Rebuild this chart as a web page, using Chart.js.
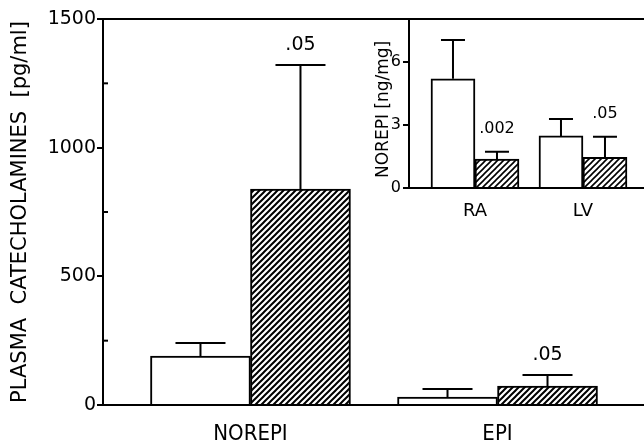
<!DOCTYPE html>
<html>
<head>
<meta charset="utf-8">
<script src="https://cdn.jsdelivr.net/npm/chart.js@4.4.1/dist/chart.umd.min.js"></script>
<style>
  html, body { margin: 0; padding: 0; background: #fff; overflow: hidden; }
  #wrap { position: relative; width: 644px; height: 445px; }
  #main { position: absolute; left: 0; top: 0; }
  #inset { position: absolute; left: 340px; top: 0; }
</style>
</head>
<body>
<div id="wrap">
  <canvas id="main" width="644" height="445"></canvas>
  <canvas id="inset" width="304" height="230"></canvas>
</div>
<script>
// main panel: plasma catecholamines (pg/ml)
const categories = ["NOREPI", "EPI"];
const controlValues = [190, 31];
const controlErrors = [51, 31];
const treatedValues = [839, 74];
const treatedErrors = [482, 43];
const treatedP = [".05", ".05"];
const yTicks = [0, 500, 1000, 1500];
const yMinorTicks = [250, 750, 1250];

// inset: tissue norepinephrine (ng/mg)
const insetCategories = ["RA", "LV"];
const insetControl = [5.2, 2.48];
const insetControlErr = [1.85, 0.81];
const insetTreated = [1.38, 1.46];
const insetTreatedErr = [0.35, 0.98];
const insetP = [".002", ".05"];
const insetTicks = [0, 3, 6];

Chart.defaults.font.family = "'DejaVu Sans'";
Chart.defaults.color = "#000";

function hatch(lw) {
  const s = 6;
  const c = document.createElement("canvas");
  c.width = c.height = s;
  const g = c.getContext("2d");
  g.fillStyle = "#fff";
  g.fillRect(0, 0, s, s);
  g.strokeStyle = "#000";
  g.lineWidth = lw;
  g.beginPath();
  [0, s, 2 * s].forEach((k) => {
    g.moveTo(k + 1, -1);
    g.lineTo(k - s - 1, s + 1);
  });
  g.stroke();
  return g.createPattern(c, "repeat");
}

const errorBars = {
  id: "errorBars",
  afterDatasetsDraw(chart, args, opts) {
    const ctx = chart.ctx;
    const y = chart.scales.y;
    ctx.save();
    ctx.strokeStyle = "#000";
    ctx.fillStyle = "#000";
    ctx.lineWidth = 2;
    opts.errors.forEach((errs, d) => {
      chart.getDatasetMeta(d).data.forEach((bar, i) => {
        const v = chart.data.datasets[d].data[i].y;
        const top = y.getPixelForValue(v + errs[i]);
        ctx.beginPath();
        ctx.moveTo(bar.x, bar.y);
        ctx.lineTo(bar.x, top);
        ctx.moveTo(bar.x - opts.cap / 2, top);
        ctx.lineTo(bar.x + opts.cap / 2, top);
        ctx.stroke();
        if (d === 1) {
          ctx.font = opts.labelFont;
          ctx.textAlign = "center";
          ctx.textBaseline = "middle";
          ctx.fillText(opts.labels[i], bar.x, top - opts.gap);
        }
      });
    });
    // short inward ticks between the labelled ones
    (opts.minor || []).forEach((v) => {
      const py = y.getPixelForValue(v);
      ctx.beginPath();
      ctx.moveTo(chart.chartArea.left, py);
      ctx.lineTo(chart.chartArea.left + 5, py);
      ctx.stroke();
    });
    ctx.restore();
  }
};

const black = { display: true, color: "#000", width: 2 };

function points(values) {
  return values.map((v, i) => ({ x: i + 1, y: v }));
}

new Chart(document.getElementById("main"), {
  type: "bar",
  data: {
    datasets: [
      { data: points(controlValues), backgroundColor: "#fff", borderColor: "#000", borderWidth: 2 },
      { data: points(treatedValues), backgroundColor: hatch(2), borderColor: "#000", borderWidth: 2 }
    ]
  },
  options: {
    responsive: false,
    animation: false,
    devicePixelRatio: 1,
    layout: { padding: 0 },
    datasets: { bar: { barThickness: 100 } },
    plugins: {
      legend: { display: false },
      tooltip: { enabled: false },
      errorBars: {
        errors: [controlErrors, treatedErrors],
        labels: treatedP,
        cap: 50,
        gap: 20,
        labelFont: "19px 'DejaVu Sans'",
        minor: yMinorTicks
      }
    },
    scales: {
      x: {
        type: "linear",
        offset: false,
        min: 0.403,
        max: 2.593,
        afterBuildTicks: (s) => { s.ticks = categories.map((c, i) => ({ value: i + 1 })); },
        ticks: {
          callback: (v) => categories[v - 1],
          font: { family: "'DejaVu Sans Condensed', 'DejaVu Sans'", size: 22 },
          padding: 16,
          autoSkip: false,
          maxRotation: 0
        },
        grid: { display: false, drawTicks: false },
        border: black,
        afterFit: (s) => { s.height = 40; }
      },
      top: {
        type: "linear",
        position: "top",
        ticks: { display: false },
        grid: { display: false, drawTicks: false },
        border: black,
        afterFit: (s) => { s.height = 19; }
      },
      y: {
        min: 0,
        max: 1500,
        afterBuildTicks: (s) => { s.ticks = yTicks.map((v) => ({ value: v })); },
        ticks: { font: { size: 19 }, padding: 1, callback: (v) => String(v) },
        grid: { drawOnChartArea: false, tickLength: 6, color: "#000", lineWidth: 2 },
        border: black,
        title: {
          display: true,
          text: "PLASMA  CATECHOLAMINES  [pg/ml]",
          font: { size: 21 },
          padding: { top: 8, bottom: 0 }
        },
        afterFit: (s) => { s.width = 103; }
      }
    }
  },
  plugins: [errorBars]
});

new Chart(document.getElementById("inset"), {
  type: "bar",
  data: {
    datasets: [
      { data: points(insetControl), backgroundColor: "#fff", borderColor: "#000", borderWidth: 2 },
      { data: points(insetTreated), backgroundColor: hatch(1.6), borderColor: "#000", borderWidth: 2 }
    ]
  },
  options: {
    responsive: false,
    animation: false,
    devicePixelRatio: 1,
    layout: { padding: { top: 20 } },
    datasets: { bar: { barThickness: 44 } },
    plugins: {
      legend: { display: false },
      tooltip: { enabled: false },
      errorBars: {
        errors: [insetControlErr, insetTreatedErr],
        labels: insetP,
        cap: 24,
        gap: 23,
        labelFont: "16px 'DejaVu Sans'"
      }
    },
    scales: {
      x: {
        type: "linear",
        offset: false,
        min: 0.389,
        max: 2.565,
        afterBuildTicks: (s) => { s.ticks = insetCategories.map((c, i) => ({ value: i + 1 })); },
        ticks: {
          callback: (v) => insetCategories[v - 1],
          font: { size: 18 },
          padding: 13,
          autoSkip: false,
          maxRotation: 0
        },
        grid: { display: false, drawTicks: false },
        border: black,
        afterFit: (s) => { s.height = 42; }
      },
      y: {
        min: 0,
        max: 8,
        afterBuildTicks: (s) => { s.ticks = insetTicks.map((v) => ({ value: v })); },
        ticks: { font: { size: 16 }, padding: 2, callback: (v) => String(v) },
        grid: { drawOnChartArea: false, tickLength: 6, color: "#000", lineWidth: 2 },
        border: black,
        title: {
          display: true,
          text: "NOREPI [ng/mg]  ",
          font: { size: 17 },
          padding: { top: 33, bottom: 0 }
        },
        afterFit: (s) => { s.width = 69; }
      }
    }
  },
  plugins: [errorBars]
});
</script>
</body>
</html>
